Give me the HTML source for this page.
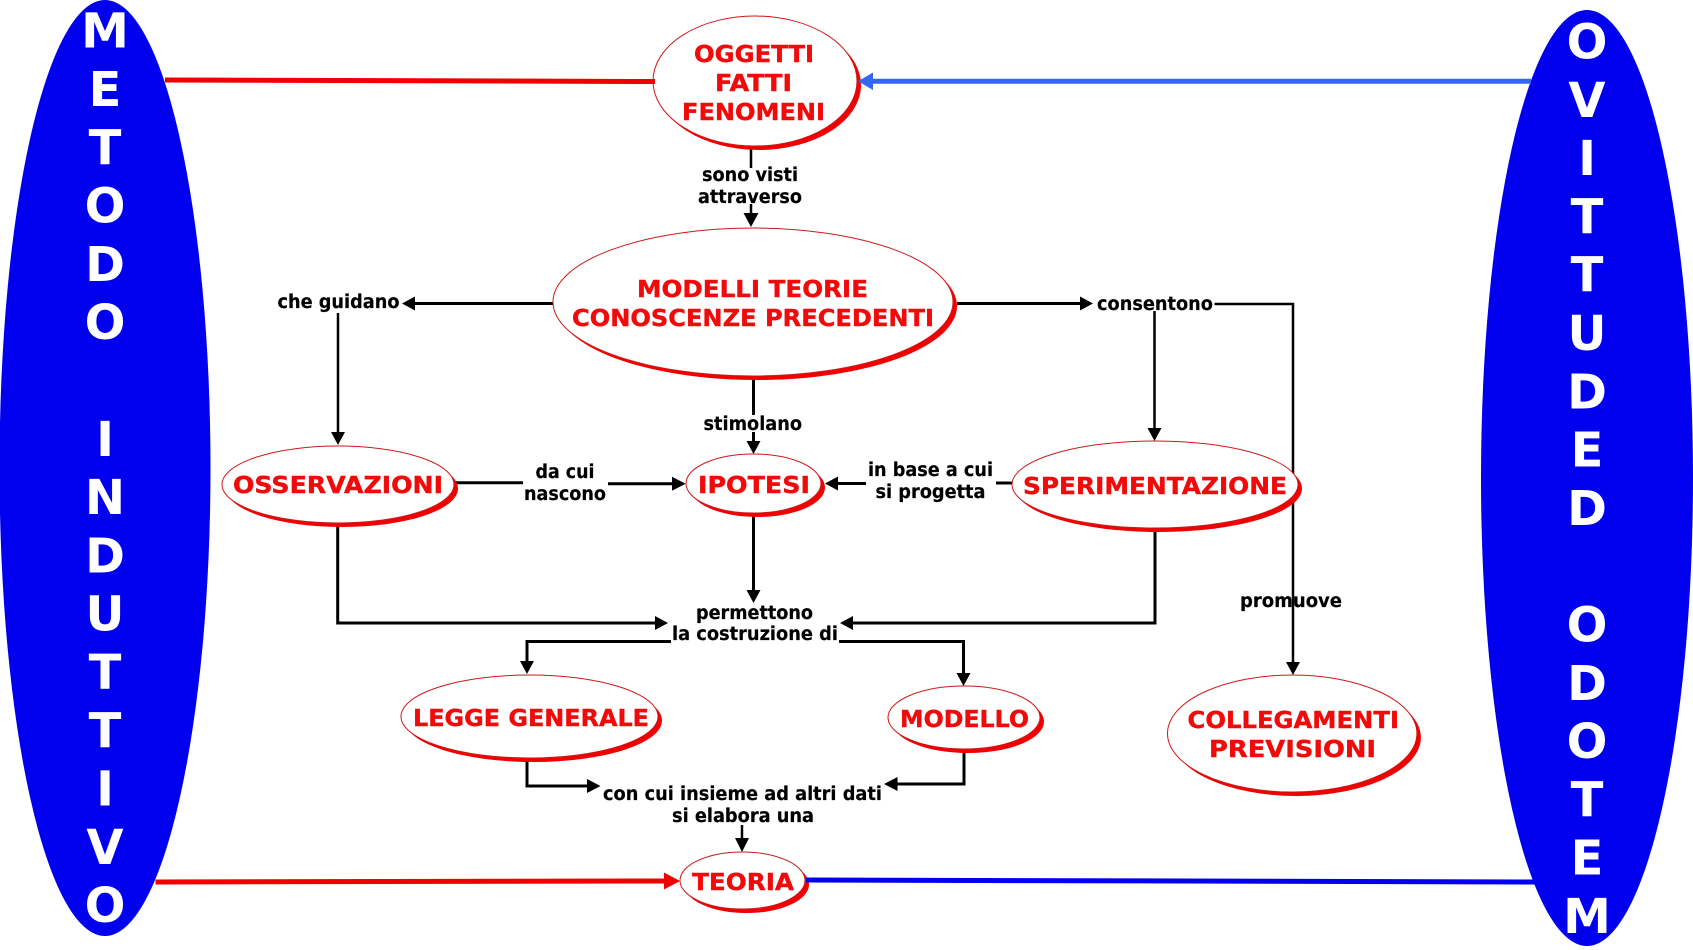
<!DOCTYPE html>
<html><head><meta charset="utf-8"><title>Metodo induttivo e deduttivo</title>
<style>
html,body{margin:0;padding:0;background:#fff;width:1693px;height:950px;overflow:hidden}
svg{display:block}
text{font-family:"DejaVu Sans","Liberation Sans",sans-serif;font-weight:bold}
.b text{fill:#fff;font-size:48px;text-anchor:middle}
.r text{fill:#f00a0a;stroke:#f00a0a;stroke-width:.4px;font-size:23.5px}
.k text{fill:#000;stroke:#000;stroke-width:.2px;font-size:18.5px}
.s ellipse.w{fill:#fff;stroke:#d01818;stroke-width:1}
.s ellipse.d{fill:#f00000}
</style></head><body>
<svg width="1693" height="950" viewBox="0 0 1693 950" xmlns="http://www.w3.org/2000/svg">
<ellipse cx="105" cy="468" rx="105.500" ry="468" fill="#0000ee"/>
<ellipse cx="1587" cy="478" rx="106" ry="468" fill="#0000ee"/>
<g class="b">
<text x="105" y="47.700">M</text><text x="105" y="106">E</text><text x="105" y="164.300">T</text><text x="105" y="222.600">O</text><text x="105" y="280.900">D</text><text x="105" y="339.200">O</text>
<text x="105" y="455.800">I</text><text x="105" y="514.100">N</text><text x="105" y="572.400">D</text><text x="105" y="630.700">U</text><text x="105" y="689">T</text><text x="105" y="747.300">T</text><text x="105" y="805.600">I</text><text x="105" y="863.900">V</text><text x="105" y="922.200">O</text>
<text x="1587" y="58.500">O</text><text x="1587" y="116.800">V</text><text x="1587" y="175.100">I</text><text x="1587" y="233.400">T</text><text x="1587" y="291.700">T</text><text x="1587" y="350">U</text><text x="1587" y="408.300">D</text><text x="1587" y="466.600">E</text><text x="1587" y="524.900">D</text>
<text x="1587" y="641.500">O</text><text x="1587" y="699.800">D</text><text x="1587" y="758.100">O</text><text x="1587" y="816.400">T</text><text x="1587" y="874.700">E</text><text x="1587" y="933">M</text>
</g>

<g fill="none" stroke="#000" stroke-width="3">
<path d="M751 146V168M751 204V215" stroke-width="2.500"/>
<path d="M553 303.500H412"/>
<path d="M338 313V434" stroke-width="2.500"/>
<path d="M957 303.500H1082"/>
<path d="M1154.500 311V430" stroke-width="2.500"/>
<path d="M1214.500 304H1293V664" stroke-width="2.500"/>
<path d="M753.500 380V415M753.500 432V443"/>
<path d="M455 482.700H523M608 483.700H674"/>
<path d="M1012 483H996M866 483.500H837"/>
<path d="M337.700 522V623H657"/>
<path d="M753.500 512V592"/>
<path d="M1155 530V623H852"/>
<path d="M671 641.500H527V663"/>
<path d="M839 641.500H963.500V675"/>
<path d="M527 757V786H589"/>
<path d="M964 748V784H895"/>
<path d="M742 825V840" stroke-width="2.500"/>
</g>
<g fill="#000">
<polygon points="751,227 743.500,213 758.500,213"/>
<polygon points="402,303.500 415,296.500 415,310.500"/>
<polygon points="338,445 331,432 345,432"/>
<polygon points="1093,303.500 1080,296.500 1080,310.500"/>
<polygon points="1154.500,441 1147.500,428 1161.500,428"/>
<polygon points="1293,675 1286,662 1300,662"/>
<polygon points="753.500,454 746.500,441 760.500,441"/>
<polygon points="685.600,483.700 672,476.700 672,490.700"/>
<polygon points="825,483.500 838,476.500 838,490.500"/>
<polygon points="668,623 655,616 655,630"/>
<polygon points="753.500,603 746.500,590 760.500,590"/>
<polygon points="840,623 853,616 853,630"/>
<polygon points="527,674 520,661 534,661"/>
<polygon points="963.500,686 956.500,673 970.500,673"/>
<polygon points="600.500,786 587,779 587,793"/>
<polygon points="884,784 897.500,777 897.500,791"/>
<polygon points="742,852 735,838 749,838"/>
</g>

<g class="s">
<ellipse class="d" cx="759" cy="85" rx="102" ry="65"/><ellipse class="w" cx="755" cy="81" rx="102" ry="65"/>
<ellipse class="d" cx="757" cy="306" rx="200" ry="74"/><ellipse class="w" cx="753" cy="302" rx="200" ry="74"/>
<ellipse class="d" cx="342" cy="488.500" rx="116" ry="38.500"/><ellipse class="w" cx="338" cy="484.500" rx="116" ry="38.500"/>
<ellipse class="d" cx="757.500" cy="487.500" rx="67.500" ry="29.500"/><ellipse class="w" cx="753.500" cy="483.500" rx="67.500" ry="29.500"/>
<ellipse class="d" cx="1159" cy="488.500" rx="143" ry="43.500"/><ellipse class="w" cx="1155" cy="484.500" rx="143" ry="43.500"/>
<ellipse class="d" cx="533.500" cy="720.500" rx="128.500" ry="41.500"/><ellipse class="w" cx="529.500" cy="716.500" rx="128.500" ry="41.500"/>
<ellipse class="d" cx="968" cy="721.500" rx="76" ry="31.500"/><ellipse class="w" cx="964" cy="717.500" rx="76" ry="31.500"/>
<ellipse class="d" cx="1296.200" cy="737.500" rx="124.700" ry="58.500"/><ellipse class="w" cx="1292.200" cy="733.500" rx="124.700" ry="58.500"/>
<ellipse class="d" cx="746.500" cy="884.500" rx="62.500" ry="28.500"/><ellipse class="w" cx="742.500" cy="880.500" rx="62.500" ry="28.500"/>
</g>

<path d="M165 80L655 81.500" stroke="#f00000" stroke-width="5" fill="none"/>
<path d="M1531 81.300H870" stroke="#3366f5" stroke-width="5" fill="none"/>
<polygon points="858,81.300 873,72.500 873,90" fill="#3366f5"/>
<path d="M155.500 882L666 881" stroke="#f00000" stroke-width="5" fill="none"/>
<polygon points="680,881 664,872.500 664,889.500" fill="#f00000"/>
<path d="M806 880L1535 882" stroke="#0000ee" stroke-width="5" fill="none"/>

<g class="r">
<text x="694" y="62" textLength="120" lengthAdjust="spacingAndGlyphs">OGGETTI</text>
<text x="715" y="91" textLength="77" lengthAdjust="spacingAndGlyphs">FATTI</text>
<text x="682" y="120" textLength="143" lengthAdjust="spacingAndGlyphs">FENOMENI</text>
<text x="637" y="297" textLength="231" lengthAdjust="spacingAndGlyphs">MODELLI TEORIE</text>
<text x="572" y="326" textLength="362" lengthAdjust="spacingAndGlyphs">CONOSCENZE PRECEDENTI</text>
<text x="233" y="493" textLength="210" lengthAdjust="spacingAndGlyphs">OSSERVAZIONI</text>
<text x="698" y="493" textLength="112" lengthAdjust="spacingAndGlyphs">IPOTESI</text>
<text x="1023" y="494" textLength="264" lengthAdjust="spacingAndGlyphs">SPERIMENTAZIONE</text>
<text x="413" y="726" textLength="236" lengthAdjust="spacingAndGlyphs">LEGGE GENERALE</text>
<text x="900" y="727" textLength="129" lengthAdjust="spacingAndGlyphs">MODELLO</text>
<text x="1187.500" y="728" textLength="211.500" lengthAdjust="spacingAndGlyphs">COLLEGAMENTI</text>
<text x="1209" y="757" textLength="167" lengthAdjust="spacingAndGlyphs">PREVISIONI</text>
<text x="692" y="890" textLength="102" lengthAdjust="spacingAndGlyphs">TEORIA</text>
</g>
<g class="k">
<text x="702" y="181" textLength="96" lengthAdjust="spacingAndGlyphs">sono visti</text>
<text x="698" y="203" textLength="104" lengthAdjust="spacingAndGlyphs">attraverso</text>
<text x="277.500" y="308" textLength="122" lengthAdjust="spacingAndGlyphs">che guidano</text>
<text x="1097" y="310" textLength="116" lengthAdjust="spacingAndGlyphs">consentono</text>
<text x="703.500" y="430" textLength="98.500" lengthAdjust="spacingAndGlyphs">stimolano</text>
<text x="535.500" y="478" textLength="59" lengthAdjust="spacingAndGlyphs">da cui</text>
<text x="524" y="500" textLength="82" lengthAdjust="spacingAndGlyphs">nascono</text>
<text x="868" y="476" textLength="125" lengthAdjust="spacingAndGlyphs">in base a cui</text>
<text x="875.500" y="498" textLength="110" lengthAdjust="spacingAndGlyphs">si progetta</text>
<text x="696" y="619" textLength="117" lengthAdjust="spacingAndGlyphs">permettono</text>
<text x="672" y="640" textLength="166" lengthAdjust="spacingAndGlyphs">la costruzione di</text>
<text x="603" y="800" textLength="279" lengthAdjust="spacingAndGlyphs">con cui insieme ad altri dati</text>
<text x="672" y="822" textLength="142" lengthAdjust="spacingAndGlyphs">si elabora una</text>
<text x="1240" y="607" textLength="102" lengthAdjust="spacingAndGlyphs">promuove</text>
</g>
</svg>
</body></html>
